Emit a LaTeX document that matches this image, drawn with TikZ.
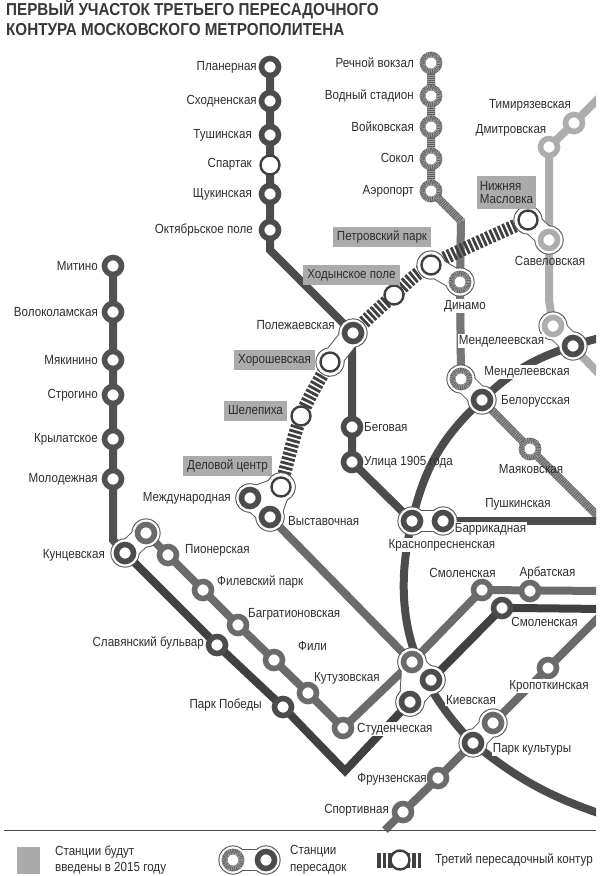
\documentclass[tikz,border=0pt]{standalone}
\usepackage{fontspec}
\setmainfont[FakeStretch=0.88]{Liberation Sans}
\pgfdeclarelayer{lines}
\pgfdeclarelayer{halo}
\pgfsetlayers{lines,halo,main}
\colorlet{cdark}{black!70}
\colorlet{cleft}{black!68}
\colorlet{cmid}{black!58}
\colorlet{clight}{black!32}
\colorlet{chat}{black!62}
\colorlet{cdot}{black!38}
\colorlet{cbox}{black!33}
\tikzset{
  st/.style={circle,draw=#1,fill=white,line width=5.6pt,minimum size=17pt,inner sep=0pt},
  sthat/.style={st=chat,postaction={draw=cdot,line width=5.6pt,dash pattern=on 0.8pt off 1.2pt}},
  stnew/.style={circle,draw=black!75,fill=white,line width=2.4pt,minimum size=19pt,inner sep=0pt},
  ln/.style={draw=#1,line width=8pt},
  lnhat/.style={ln=chat,postaction={draw=cdot,line width=8pt,dash pattern=on 0.8pt off 1.2pt}},
  third/.style={draw=black!75,line width=13.5pt,dash pattern=on 2.8pt off 1.9pt},
  thirdkey/.style={draw=black!75,line width=15pt,dash pattern=on 3.5pt off 2pt},
  lab/.style={text=black!82,font=\fontsize{13.2}{13.6}\selectfont,inner sep=0pt},
  labw/.style={lab,fill=white,inner xsep=1pt,inner ysep=1pt},
  boxlab/.style={lab,fill=cbox,inner xsep=4pt,minimum height=20pt},
  title/.style={text=black!78,font=\fontsize{17.3}{18}\bfseries\selectfont,inner sep=0pt,anchor=west}
}
\begin{document}
\begin{tikzpicture}[x=1pt,y=-1pt]
  \useasboundingbox (0,0) rectangle (600,876);

  % stations
  \node[st=cdark] (npl) at (270,67) {};
  \node[st=cdark] (nsh) at (270,101) {};
  \node[st=cdark] (ntu) at (270,135) {};
  \node[stnew] (nsp) at (270,165) {};
  \node[st=cdark] (nsu) at (270,194) {};
  \node[st=cdark] (nok) at (270,230) {};
  \node[st=cdark] (nps) at (353,333) {};
  \node[st=cdark] (nbg) at (352,427) {};
  \node[st=cdark] (nul) at (352,462) {};
  \node[st=cdark] (nkr) at (412,521) {};
  \node[st=cdark] (nbr) at (443,521) {};

  \node[sthat] (nre) at (431,63) {};
  \node[sthat] (nvo) at (431,96) {};
  \node[sthat] (nvk) at (431,127) {};
  \node[sthat] (nso) at (431,159) {};
  \node[sthat] (nae) at (431,191) {};
  \node[sthat] (ndi) at (460,282) {};
  \node[sthat] (nmh) at (461,379) {};
  \node[sthat] (nma) at (530,449) {};
  \node[st=cdark] (nbe) at (482,400) {};

  \node[st=clight] (nti) at (574,123) {};
  \node[st=clight] (ndm) at (549,147) {};
  \node[st=clight] (nsa) at (549,240) {};
  \node[st=clight] (nml) at (553,326) {};
  \node[st=cdark] (nmd) at (573,346) {};

  \node[stnew] (nni) at (528,220) {};
  \node[stnew] (npt) at (431,265) {};
  \node[stnew] (nho) at (394,295) {};
  \node[stnew] (nhr) at (330,362) {};
  \node[stnew] (nse) at (301,416) {};
  \node[stnew] (nde) at (281,487) {};

  \node[st=cdark] (nme) at (250,498) {};
  \node[st=cdark] (nvy) at (270,517) {};

  \node[st=cleft] (nmi) at (113,266) {};
  \node[st=cleft] (nvl) at (113,312) {};
  \node[st=cleft] (nmk) at (113,360) {};
  \node[st=cleft] (nst) at (113,395) {};
  \node[st=cleft] (nkl) at (113,439) {};
  \node[st=cleft] (nmo) at (113,479) {};
  \node[st=cdark] (nku) at (125,553) {};
  \node[st=cmid] (nkm) at (146,533) {};

  \node[st=cmid] (npi) at (168,555) {};
  \node[st=cmid] (nfi) at (203,590) {};
  \node[st=cmid] (nbt) at (238,625) {};
  \node[st=cmid] (nfl) at (274,660) {};
  \node[st=cmid] (nkt) at (308,693) {};
  \node[st=cmid] (nsd) at (343,728) {};
  \node[st=cdark] (nsl) at (217,645) {};
  \node[st=cdark] (npp) at (283,707) {};

  \node[st=cmid] (nk1) at (412,662) {};
  \node[st=cdark] (nk2) at (431,680) {};
  \node[st=cdark] (nk3) at (410,702) {};
  \node[st=cmid] (nsm) at (482,590) {};
  \node[st=cmid] (nar) at (530,591) {};
  \node[st=cdark] (nsk) at (502,608) {};

  \node[st=cmid] (npc) at (493,723) {};
  \node[st=cdark] (npk) at (473,743) {};
  \node[st=cmid] (nkp) at (548,668) {};
  \node[st=cmid] (nfr) at (438,778) {};
  \node[st=cmid] (nsr) at (403,812) {};

  % legend
  \node[sthat] (nlh) at (233,860) {};
  \node[st=cdark] (nld) at (266,860) {};
  \node[stnew] (nlt) at (400,860) {};
  \coordinate (cl1) at (377,860);
  \coordinate (cl2) at (421,860);
  \coordinate (cp1) at (604,522);
  \coordinate (cp2) at (604,521);
  \coordinate (cc1) at (604,337);
  \coordinate (cc2) at (604,815);
  \coordinate (cs1) at (604,591);
  \coordinate (cs2) at (604,609);
  \coordinate (ckp) at (604,612);
  \coordinate (cfr) at (385,830);
  \coordinate (cl3) at (604,379);
  \coordinate (cl4) at (604,93);

  \begin{pgfonlayer}{lines}
    \clip (0,0) rectangle (596,876);
    \draw[ln=cdark] (npl.center) -- (nok.center) -- (270,250) -- (nps.center) -- (352,345)
      -- (nbg.center) -- (nul.center) -- (nkr.center);
    \draw[lnhat] (nre.center) -- (nae.center) -- (461,221) -- (ndi.center) -- (nmh.center)
      -- (nbe.center) -- (nma.center) -- (cp1);
    \draw[ln=cdark] (nbr.center) -- (cp2);
    \draw[ln=clight] (cl4) -- (nti.center) -- (ndm.center) -- (549,300) -- (nml.center) -- (cl3);
    \draw[ln=cleft] (nmi.center) -- (113,540) -- (nku.center);
    \draw[ln=black!75] (nku.center) -- (nsl.center) -- (npp.center) -- (345,771) -- (nk3.center)
      -- (nk2.center) -- (nsk.center) -- (516,608) -- (cs2);
    \draw[ln=cmid] (nkm.center) -- (npi.center) -- (nfi.center) -- (nbt.center) -- (nfl.center)
      -- (nkt.center) -- (nsd.center) -- (nk1.center) -- (nsm.center) -- (cs1);
    \draw[ln=cmid] (nvy.center) -- (nk1.center);
    \draw[ln=cmid] (cfr) -- (nsr.center) -- (nfr.center) -- (npk.center) -- (npc.center)
      -- (nkp.center) -- (ckp);
    % circle line
    \draw[ln=cdark] (cc1) to[bend right=3] (nmd.center) to[bend right=13] (nbe.center)
      to[bend right=17] (nkr.center) to[bend right=29] (npk.center) to[bend right=10] (cc2);
    % third contour
    \draw[third] plot[smooth] coordinates {(nni.center) (npt.center) (nho.center) (nps.center)
      (nhr.center) (nse.center) (nde.center)};
    \draw[thirdkey] (cl1) -- (nlt.center);
    \draw[thirdkey] (cl2) -- (nlt.center);
  \end{pgfonlayer}

  % white rims of the transfers
  \begin{pgfonlayer}{halo}
    \foreach \lw/\rr/\col in {21.5/14.6/black!65,19.5/13.6/white}
      \foreach \a/\b in {nni/nsa,npt/ndi,nps/nhr,nme/nde,nde/nvy,nme/nvy,nml/nmd,nmh/nbe,
        nku/nkm,nkr/nbr,nk1/nk2,nk2/nk3,nk1/nk3,npc/npk,nlh/nld} {
        \draw[\col,line width=\lw pt] (\a.center) -- (\b.center);
        \fill[\col] (\a.center) circle[radius=\rr pt] (\b.center) circle[radius=\rr pt];
      }
  \end{pgfonlayer}

  % labels
  \node[title] (ttop) at (6,9) {ПЕРВЫЙ УЧАСТОК ТРЕТЬЕГО ПЕРЕСАДОЧНОГО};
  \node[title] (tbot) at (6,30) {КОНТУРА МОСКОВСКОГО МЕТРОПОЛИТЕНА};

  \node[lab,anchor=east] (tpl) at (257,67) {Планерная};
  \node[lab,anchor=east] (tsh) at (257,101) {Сходненская};
  \node[lab,anchor=east] (ttu) at (252,135) {Тушинская};
  \node[lab,anchor=east] (tsp) at (252,164) {Спартак};
  \node[lab,anchor=east] (tsu) at (252,194) {Щукинская};
  \node[lab,anchor=east] (tok) at (253,230) {Октябрьское поле};
  \node[lab,anchor=east] (tre) at (414,63) {Речной вокзал};
  \node[lab,anchor=east] (tvo) at (414,96) {Водный стадион};
  \node[lab,anchor=east] (tvk) at (414,127) {Войковская};
  \node[lab,anchor=east] (tso) at (414,158) {Сокол};
  \node[lab,anchor=east] (tae) at (414,191) {Аэропорт};
  \node[lab] (tti) at (530,105) {Тимирязевская};
  \node[lab] (tdm) at (511,130) {Дмитровская};
  \node[lab] (tsa) at (550,261) {Савеловская};
  \node[boxlab,align=left,minimum height=33pt,inner xsep=3pt] (tni) at (506.5,192.5) {Нижняя\\Масловка};
  \node[boxlab] (tpt) at (382,236.5) {Петровский парк};
  \node[boxlab] (tho) at (351.5,275) {Ходынское поле};
  \node[boxlab] (thr) at (274.5,360) {Хорошевская};
  \node[boxlab] (tse) at (255.5,410.5) {Шелепиха};
  \node[boxlab] (tde) at (227.5,465.5) {Деловой центр};
  \node[lab,anchor=east] (tps) at (335,325) {Полежаевская};
  \node[lab,anchor=east] (tme) at (231,498) {Международная};
  \node[lab,anchor=west] (tvy) at (288,521) {Выставочная};
  \node[lab,anchor=east] (tku) at (105,555) {Кунцевская};
  \node[lab,anchor=west] (tpi) at (185,550) {Пионерская};
  \node[lab,anchor=west] (tfi) at (217,582) {Филевский парк};
  \node[lab,anchor=west] (tbt) at (248,614) {Багратионовская};
  \node[lab,anchor=west] (tfl) at (298,646) {Фили};
  \node[lab,anchor=west] (tkt) at (314,678) {Кутузовская};
  \node[lab,anchor=east] (tsl) at (204,643) {Славянский бульвар};
  \node[lab,anchor=east] (tpp) at (262,705) {Парк Победы};
  \node[labw,anchor=west] (tsd) at (356,729) {Студенческая};
  \node[lab,anchor=east] (tmi) at (98,266) {Митино};
  \node[lab,anchor=east] (tvl) at (98,312) {Волоколамская};
  \node[lab,anchor=east] (tmk) at (98,360) {Мякинино};
  \node[lab,anchor=east] (tst) at (98,395) {Строгино};
  \node[lab,anchor=east] (tkl) at (98,439) {Крылатское};
  \node[lab,anchor=east] (tmo) at (98,479) {Молодежная};
  \node[lab,anchor=west] (tbg) at (364,427) {Беговая};
  \node[lab,anchor=west] (tul) at (364,462) {Улица 1905 года};
  \node[labw] (tdi) at (465,306) {Динамо};
  \node[labw] (tmh) at (501.5,341) {Менделеевская};
  \node[labw] (tmd) at (527,372) {Менделеевская};
  \node[lab,anchor=west] (tbe) at (501,401) {Белорусская};
  \node[lab] (tma) at (531,469) {Маяковская};
  \node[lab] (tpu) at (518,504) {Пушкинская};
  \node[labw] (tbr) at (490.5,529) {Баррикадная};
  \node[labw] (tkr) at (442,545) {Краснопресненская};
  \node[lab] (tsm) at (462.5,573) {Смоленская};
  \node[lab] (tar) at (547.5,573) {Арбатская};
  \node[labw] (tsk) at (544.5,622) {Смоленская};
  \node[labw] (tkp) at (549,686) {Кропоткинская};
  \node[labw] (tk2) at (471,700) {Киевская};
  \node[labw] (tpk) at (532,749) {Парк культуры};
  \node[lab,anchor=east] (tfr) at (427,779) {Фрунзенская};
  \node[lab,anchor=east] (tsr) at (389,810) {Спортивная};

  % legend
  \draw[black!70,line width=1pt] (cfr -| 4,0) -- (cfr -| 596,0);
  \node[fill=cbox,minimum width=23pt,minimum height=27pt,inner sep=0pt] (nlb) at (28.5,860) {};
  \node[lab,anchor=west,align=left] (tl1) at (55,860) {Станции будут\\[3pt]введены в 2015 году};
  \node[lab,anchor=west,align=left] (tl2) at (290,860) {Станции\\[3pt]пересадок};
  \node[lab,anchor=west] (tl3) at (435,860) {Третий пересадочный контур};
\end{tikzpicture}
\end{document}
